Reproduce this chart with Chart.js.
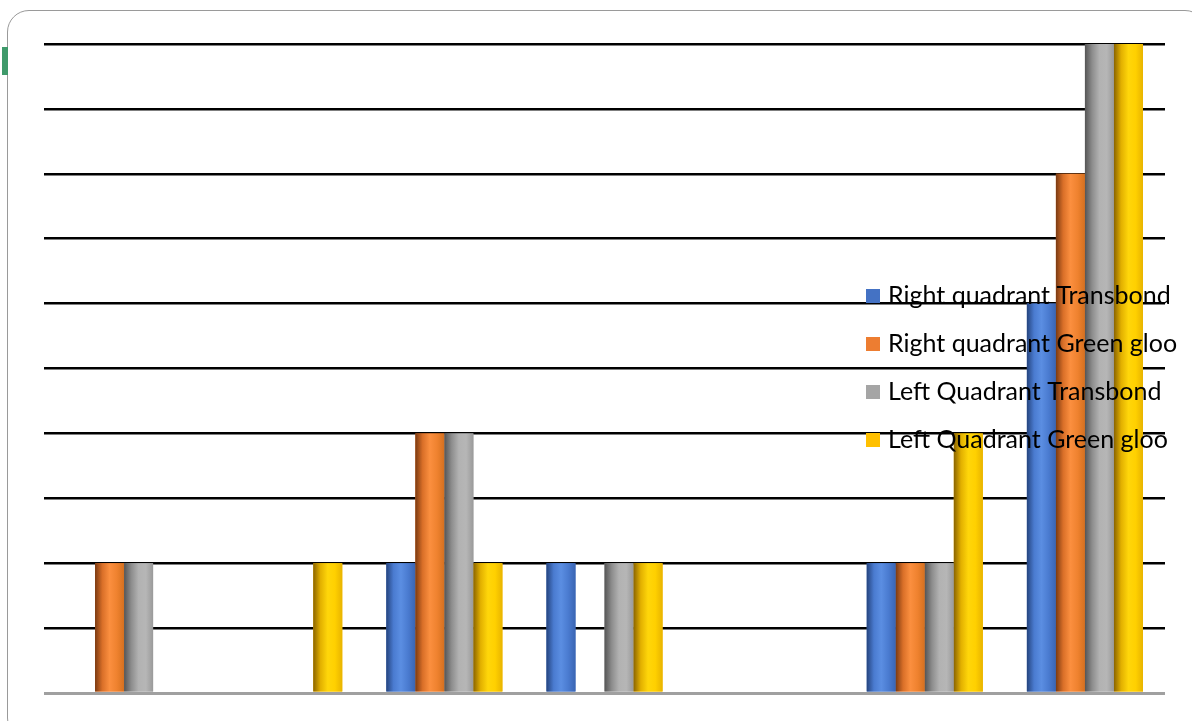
<!DOCTYPE html>
<html>
<head>
<meta charset="utf-8">
<script src="https://cdn.jsdelivr.net/npm/chart.js@4.4.1/dist/chart.umd.min.js"></script>
<style>
  html, body { margin: 0; padding: 0; background: #fff; overflow: hidden; }
  #frame {
    position: absolute; left: 7px; top: 10px; width: 1200px; height: 730px;
    border: 1px solid #9a9a9a; border-radius: 22px; box-sizing: border-box;
  }
  #tab { position: absolute; left: 2px; top: 47px; width: 6px; height: 28px; background: #3f9a6b; }
  #wrap { position: absolute; left: 0; top: 0; width: 1192px; height: 721px; }
</style>
</head>
<body>
<div id="frame"></div>
<div id="tab"></div>
<div id="wrap"><canvas id="chart"></canvas></div>
<script>
// ───── data (one gridline = 0.5) ─────
const groups = ['1', '2', '3', '4', '5', '6', '7'];
const seriesNames = [
  'Right quadrant Transbond',
  'Right quadrant Green gloo',
  'Left Quadrant Transbond',
  'Left Quadrant Green gloo',
];
const rightTransbond = [0, 0, 1, 1, 0, 1, 3];
const rightGreenGloo = [1, 0, 2, 0, 0, 1, 4];
const leftTransbond  = [1, 0, 2, 1, 0, 1, 5];
const leftGreenGloo  = [0, 1, 1, 1, 0, 2, 5];

// flat colour for the legend, plus dark/light/mid stops for the cylinder shading
const palette = [
  { base: '#4472c4', stops: ['#25447e', '#4a7bd0', '#5b8ee2', '#4a7bd0', '#3a65b3'] },
  { base: '#ed7d31', stops: ['#7a3a12', '#d96f28', '#fb8f3f', '#ef822f', '#d5701f'] },
  { base: '#a5a5a5', stops: ['#555555', '#8d8d8d', '#b2b2b2', '#b6b6b6', '#9a9a9a'] },
  { base: '#ffc000', stops: ['#8a6400', '#e2b000', '#ffd60a', '#ffd000', '#e8b400'] },
];

const values = [rightTransbond, rightGreenGloo, leftTransbond, leftGreenGloo];

// Paint each bar as a shaded cylinder on top of the flat bar.
const cylinderBars = {
  id: 'cylinderBars',
  afterDatasetsDraw(chart) {
    const ctx = chart.ctx;
    chart.data.datasets.forEach((ds, i) => {
      const meta = chart.getDatasetMeta(i);
      const stops = palette[i].stops;
      meta.data.forEach((bar) => {
        const { x, y, base, width } = bar.getProps(['x', 'y', 'base', 'width'], true);
        if (Math.abs(base - y) < 1) return;
        const left = x - width / 2;
        const g = ctx.createLinearGradient(left, 0, left + width, 0);
        g.addColorStop(0, stops[0]);
        g.addColorStop(0.25, stops[1]);
        g.addColorStop(0.5, stops[2]);
        g.addColorStop(0.75, stops[3]);
        g.addColorStop(1, stops[4]);
        ctx.save();
        ctx.fillStyle = g;
        ctx.fillRect(left, Math.min(y, base), width, Math.abs(base - y));
        ctx.restore();
      });
    });
  },
};

// Legend floats over the plot, drawn last so it sits on top of the bars.
const overlayLegend = {
  id: 'overlayLegend',
  afterDraw(chart) {
    const ctx = chart.ctx;
    ctx.save();
    ctx.font = '25px Lato, "Open Sans", sans-serif';
    ctx.textBaseline = 'alphabetic';
    chart.data.datasets.forEach((ds, i) => {
      const top = 289 + i * 48;
      ctx.fillStyle = ds.backgroundColor;
      ctx.fillRect(866, top, 14, 14);
      ctx.fillStyle = '#000';
      ctx.fillText(ds.label, 888, top + 15);
    });
    ctx.restore();
  },
};

new Chart(document.getElementById('chart'), {
  type: 'bar',
  data: {
    labels: groups,
    datasets: seriesNames.map((name, i) => ({
      label: name,
      data: values[i],
      backgroundColor: palette[i].base,
      borderWidth: 0,
      barPercentage: 1,
      categoryPercentage: 0.725,
    })),
  },
  options: {
    responsive: true,
    maintainAspectRatio: false,
    animation: false,
    layout: { padding: { left: 44, right: 27, top: 44, bottom: 28 } },
    plugins: { legend: { display: false }, tooltip: { enabled: false } },
    scales: {
      x: {
        grid: { display: false, drawTicks: false },
        ticks: { display: false },
        border: { display: false },
      },
      y: {
        min: 0,
        max: 5,
        ticks: { display: false, stepSize: 0.5 },
        border: { display: false },
        grid: {
          drawTicks: false,
          color: (c) => (c.tick.value === 0 ? '#a0a0a0' : '#000000'),
          lineWidth: (c) => (c.tick.value === 0 ? 3 : 2.5),
        },
      },
    },
  },
  plugins: [cylinderBars, overlayLegend],
});
</script>
</body>
</html>
